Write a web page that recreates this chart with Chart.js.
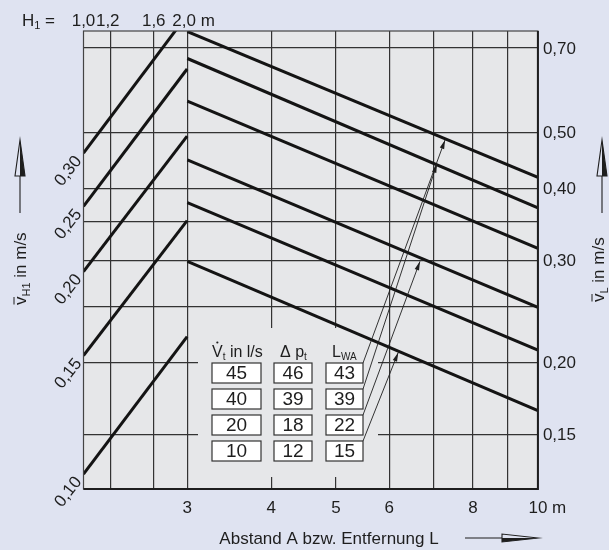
<!DOCTYPE html>
<html>
<head>
<meta charset="utf-8">
<script src="https://cdn.jsdelivr.net/npm/chart.js@4.4.1/dist/chart.umd.min.js"></script>
<style>
  html, body { margin: 0; padding: 0; background: #dfe3f1; }
  canvas { display: block; }
</style>
</head>
<body>
<canvas id="chart" width="609" height="550"></canvas>
<script>
// Nomogram: v_H1 over H1 (left part) and v_L over distance A / L (right part)

// tick values / labels
const hTicks = [1.0, 1.2, 1.6, 2.0];
const hTickLabels = ['1,0', '1,2', '1,6', '2,0'];
const xTicks = [3, 4, 5, 6, 7, 8, 9, 10];
const xLabelTicks = [3, 4, 5, 6, 8, 10];
const vLTicks = [0.15, 0.20, 0.25, 0.30, 0.35, 0.40, 0.50, 0.70];
const vLLabelTicks = [0.15, 0.20, 0.30, 0.40, 0.50, 0.70];
const vHTicks = [0.10, 0.15, 0.20, 0.25, 0.30];

// left lines: v_H1 at H1 = 1,0 m and at H1 = 2,0 m
const hFrom = [0.30, 0.25, 0.20, 0.15, 0.10];
const hTo = [0.481, 0.400, 0.318, 0.238, 0.160];
// right lines: v_L at L = 3 m and at L = 10 m
const lFrom = [0.747, 0.671, 0.566, 0.448, 0.378, 0.299];
const lTo = [0.418, 0.370, 0.315, 0.249, 0.210, 0.165];

// table
const flowVals = ['45', '40', '20', '10'];
const dpVals = ['46', '39', '18', '12'];
const lwaVals = ['43', '39', '22', '15'];
// where the pointer of each row ends (L, v_L)
const pointerL = [7.27, 7.07, 6.67, 6.19];
const pointerV = [0.485, 0.441, 0.299, 0.208];

const FONT = '"Liberation Sans", Arial, Helvetica, sans-serif';
const INK = '#1e1e1e';
const PLOT_BG = '#e6e7e9';
const GRID = '#333333';

function fmt(v){ return v.toFixed(2).replace('.', ','); }
function font(px){ return px + 'px ' + FONT; }

// draws a run of text pieces left to right, pieces: [text, size, dy]
function rich(ctx, parts, x, y){
  let cx = x;
  for (const [t, size, dy] of parts){
    ctx.font = font(size);
    ctx.fillText(t, cx, y + (dy || 0));
    cx += ctx.measureText(t).width;
  }
  return cx;
}

function upArrow(ctx, x, tip, base, end, hw){
  ctx.lineWidth = 1.1;
  ctx.beginPath(); ctx.moveTo(x, base); ctx.lineTo(x, end); ctx.stroke();
  ctx.beginPath(); ctx.moveTo(x, tip); ctx.lineTo(x - hw, base); ctx.lineTo(x + hw, base); ctx.closePath(); ctx.stroke();
  ctx.beginPath(); ctx.moveTo(x, tip); ctx.lineTo(x, base); ctx.lineTo(x + hw, base); ctx.closePath(); ctx.fill();
}

function rightArrow(ctx, y, tip, base, start, hw){
  ctx.lineWidth = 1.1;
  ctx.beginPath(); ctx.moveTo(start, y); ctx.lineTo(base, y); ctx.stroke();
  ctx.beginPath(); ctx.moveTo(tip, y); ctx.lineTo(base, y - hw); ctx.lineTo(base, y + hw); ctx.closePath(); ctx.stroke();
  ctx.beginPath(); ctx.moveTo(tip, y); ctx.lineTo(base, y); ctx.lineTo(base, y + hw); ctx.closePath(); ctx.fill();
}

const TABLE = { colW: [[212, 261], [274, 312], [326, 363]], rowTop: [363, 389, 415, 441], rowH: 20 };

const nomo = {
  id: 'nomo',
  beforeDraw(chart){
    const { ctx, chartArea: a } = chart;
    ctx.save();
    ctx.fillStyle = PLOT_BG;
    ctx.fillRect(a.left, a.top, a.right - a.left, a.bottom - a.top);
    ctx.restore();
  },
  beforeDatasetsDraw(chart){
    // grid is left open where the table sits
    const { ctx } = chart;
    ctx.save();
    ctx.fillStyle = PLOT_BG;
    ctx.fillRect(198, 328, 180, 149);
    ctx.restore();
  },
  afterDatasetsDraw(chart){
    const { ctx, chartArea: a, scales } = chart;
    ctx.save();
    // frame
    ctx.strokeStyle = '#444';
    ctx.lineWidth = 1.2;
    ctx.strokeRect(a.left, a.top, a.right - a.left, a.bottom - a.top);
    ctx.strokeStyle = INK;
    ctx.lineWidth = 2;
    ctx.beginPath();
    ctx.moveTo(a.left, a.bottom); ctx.lineTo(a.right, a.bottom); ctx.lineTo(a.right, a.top);
    ctx.stroke();

    // pointers from the L_WA boxes to the lines
    ctx.strokeStyle = INK;
    ctx.fillStyle = INK;
    ctx.lineWidth = 0.9;
    pointerL.forEach((L, i) => {
      const x0 = TABLE.colW[2][1], y0 = TABLE.rowTop[i];
      const x1 = scales.x.getPixelForValue(L), y1 = scales.y.getPixelForValue(pointerV[i]);
      ctx.beginPath(); ctx.moveTo(x0, y0); ctx.lineTo(x1, y1); ctx.stroke();
      const ang = Math.atan2(y1 - y0, x1 - x0);
      ctx.save();
      ctx.translate(x1, y1); ctx.rotate(ang);
      ctx.beginPath(); ctx.moveTo(0, 0); ctx.lineTo(-9, -2.3); ctx.lineTo(-9, 2.3); ctx.closePath(); ctx.fill();
      ctx.restore();
    });
    ctx.restore();
  },
  afterDraw(chart){
    const { ctx, chartArea: a, scales } = chart;
    ctx.save();
    ctx.fillStyle = INK;
    ctx.strokeStyle = INK;
    ctx.textBaseline = 'alphabetic';

    // top: H1 scale
    ctx.textAlign = 'left';
    rich(ctx, [['H', 17], ['1', 11, 3], [' =', 17]], 22, 26);
    hTicks.forEach((h, i) => {
      const px = scales.xh.getPixelForValue(h);
      ctx.font = font(17);
      ctx.textAlign = 'center';
      let cx = px;
      if (i === 1) cx -= 3;
      if (i === 3) cx -= 3;
      ctx.fillText(hTickLabels[i], cx, 26);
      if (i === hTicks.length - 1){
        ctx.textAlign = 'left';
        ctx.fillText(' m', cx + ctx.measureText(hTickLabels[i]).width / 2, 26);
      }
    });

    // bottom: distance scale
    xLabelTicks.forEach((v, i) => {
      const px = scales.x.getPixelForValue(v);
      ctx.font = font(17);
      ctx.textAlign = 'center';
      ctx.fillText(String(v), px, 513);
      if (i === xLabelTicks.length - 1){
        ctx.textAlign = 'left';
        ctx.fillText(' m', px + ctx.measureText(String(v)).width / 2, 513);
      }
    });

    // right: v_L
    ctx.textAlign = 'left';
    ctx.textBaseline = 'middle';
    ctx.font = font(17);
    vLLabelTicks.forEach(v => {
      const py = scales.y.getPixelForValue(v);
      ctx.fillText(fmt(v), a.right + 5, py + 1);
    });

    // left: v_H1, slanted
    ctx.textAlign = 'right';
    vHTicks.forEach(v => {
      const py = scales.yh.getPixelForValue(v);
      ctx.save();
      ctx.translate(a.left - 5, py + 5);
      ctx.rotate(-Math.PI * 0.29);
      ctx.fillText(fmt(v), 0, 0);
      ctx.restore();
    });

    // axis titles
    ctx.textBaseline = 'alphabetic';
    ctx.textAlign = 'left';
    ctx.lineWidth = 1;
    [[26, 305, 'H1'], [604, 302, 'L']].forEach(([tx, ty, sub]) => {
      ctx.save();
      ctx.translate(tx, ty);
      ctx.rotate(-Math.PI / 2);
      ctx.font = font(17);
      const vw = ctx.measureText('v').width;
      rich(ctx, [['v', 17], [sub, 11, 4], [' in m/s', 17]], 0, 0);
      ctx.beginPath(); ctx.moveTo(0.5, -12); ctx.lineTo(vw - 0.5, -12); ctx.stroke();
      ctx.restore();
    });
    upArrow(ctx, 20, 140, 176, 213, 5);
    upArrow(ctx, 602, 140, 176, 213, 5);

    ctx.font = font(17);
    ctx.textAlign = 'center';
    ctx.fillText('Abstand A bzw. Entfernung L', 329, 544);
    rightArrow(ctx, 538, 538, 502, 465, 4);

    // table header
    ctx.textAlign = 'left';
    const vx = 212;
    ctx.font = font(16);
    const Vw = ctx.measureText('V').width;
    rich(ctx, [['V', 16], ['t', 10, 3], [' in l/s', 16]], vx, 357);
    ctx.beginPath(); ctx.arc(vx + Vw / 2, 342.5, 1.1, 0, Math.PI * 2); ctx.fill();
    rich(ctx, [['\u0394', 16], [' p', 16], ['t', 10, 3]], 280, 357);
    rich(ctx, [['L', 16], ['WA', 10, 3]], 332, 357);

    // table boxes
    const cols = [flowVals, dpVals, lwaVals];
    ctx.textAlign = 'center';
    ctx.textBaseline = 'middle';
    ctx.lineWidth = 1.2;
    ctx.strokeStyle = '#333';
    TABLE.rowTop.forEach((top, r) => {
      TABLE.colW.forEach(([x0, x1], c) => {
        ctx.fillStyle = '#ffffff';
        ctx.fillRect(x0, top, x1 - x0, TABLE.rowH);
        ctx.strokeRect(x0, top, x1 - x0, TABLE.rowH);
        ctx.fillStyle = INK;
        ctx.font = font(19);
        ctx.fillText(cols[c][r], (x0 + x1) / 2, top + TABLE.rowH / 2 + 1);
      });
    });
    ctx.restore();
  }
};

const lineStyle = { borderColor: '#141414', borderWidth: 3, pointRadius: 0, borderCapStyle: 'butt', fill: false };
const hSets = hFrom.map((v, i) => ({
  ...lineStyle, xAxisID: 'xh', yAxisID: 'yh',
  data: [{ x: hTicks[0], y: v }, { x: hTicks[hTicks.length - 1], y: hTo[i] }]
}));
const lSets = lFrom.map((v, i) => ({
  ...lineStyle, xAxisID: 'x', yAxisID: 'y',
  data: [{ x: xTicks[0], y: v }, { x: xTicks[xTicks.length - 1], y: lTo[i] }]
}));

function hidden(extra){
  return Object.assign({
    type: 'logarithmic',
    ticks: { display: false },
    border: { display: false },
    grid: { color: GRID, lineWidth: 1.2, drawTicks: false }
  }, extra);
}

new Chart(document.getElementById('chart'), {
  type: 'line',
  data: { datasets: [...hSets, ...lSets] },
  options: {
    responsive: false,
    animation: false,
    events: [],
    layout: { padding: { left: 83.5, right: 71.1, top: 31, bottom: 61 } },
    plugins: { legend: { display: false }, tooltip: { enabled: false } },
    scales: {
      x: hidden({ position: 'bottom', min: 2.1, max: 10,
        afterBuildTicks: s => { s.ticks = xTicks.map(v => ({ value: v })); },
        afterFit: s => { s.height = 0; } }),
      xh: hidden({ position: 'top', min: 1.0, max: 20.9,
        afterBuildTicks: s => { s.ticks = hTicks.slice(1, 3).map(v => ({ value: v })); },
        afterFit: s => { s.height = 0; } }),
      y: hidden({ position: 'right', min: 0.1207, max: 0.7487,
        afterBuildTicks: s => { s.ticks = vLTicks.map(v => ({ value: v })); },
        afterFit: s => { s.width = 0; } }),
      yh: hidden({ position: 'left', min: 0.0950, max: 0.4556,
        grid: { display: false },
        afterFit: s => { s.width = 0; } })
    }
  },
  plugins: [nomo]
});
</script>
</body>
</html>
